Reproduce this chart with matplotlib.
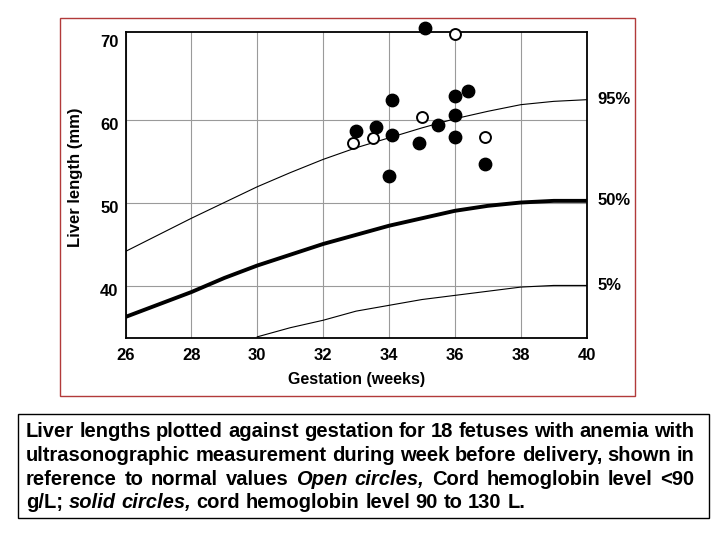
import numpy as np
import matplotlib
matplotlib.use("Agg")
import matplotlib.pyplot as plt
from matplotlib.patches import Rectangle
from matplotlib.transforms import ScaledTranslation

plt.rcParams['font.family'] = ['Liberation Sans', 'DejaVu Sans']

# --- data ---
weeks = [26, 27, 28, 29, 30, 31, 32, 33, 34, 35, 36, 37, 38, 39, 40]
p95 = [44.2, 46.2, 48.2, 50.1, 52.0, 53.7, 55.3, 56.7, 57.9, 59.1, 60.2, 61.1, 61.9, 62.3, 62.5]
p50 = [36.3, 37.8, 39.3, 41.0, 42.5, 43.8, 45.1, 46.2, 47.3, 48.2, 49.1, 49.7, 50.1, 50.3, 50.3]
weeks5 = [30, 31, 32, 33, 34, 35, 36, 37, 38, 39, 40]
p5 = [33.9, 35.0, 35.9, 37.0, 37.7, 38.4, 38.9, 39.4, 39.9, 40.1, 40.1]

# open circles: cord hemoglobin < 90 g/L
open_x = [36.0, 35.0, 33.5, 32.9, 36.9]
open_y = [70.4, 60.4, 57.9, 57.3, 58.0]
# solid circles: cord hemoglobin 90-130
solid_x = [35.1, 34.1, 36.0, 36.4, 36.0, 35.5, 34.1, 33.6, 33.0, 34.9, 36.0, 34.0, 36.9]
solid_y = [71.2, 62.5, 63.0, 63.5, 60.7, 59.5, 58.3, 59.2, 58.7, 57.3, 58.0, 53.3, 54.7]

pct_labels = ["95%", "50%", "5%"]
xticks = [26, 28, 30, 32, 34, 36, 38, 40]
yticks = [40, 50, 60, 70]

caption = [
    [("Liver lengths plotted against gestation for 18 fetuses with anemia with", "normal")],
    [("ultrasonographic measurement during week before delivery, shown in", "normal")],
    [("reference to normal values", "normal"), ("Open circles,", "italic"),
     ("Cord hemoglobin level <90", "normal")],
    [("g/L;", "normal"), ("solid circles,", "italic"),
     ("cord hemoglobin level 90 to 130 L.", "normal")],
]

W, H = 720, 540
fig = plt.figure(figsize=(7.2, 5.4), dpi=100)
ax = fig.add_axes([125.5 / W, 1 - 338 / H, (586.7 - 125.5) / W, (338 - 31.7) / H])

ax.plot(weeks, p95, color='black', lw=0.8)
ax.plot(weeks, p50, color='black', lw=2.8)
ax.plot(weeks5, p5, color='black', lw=0.8)

ax.scatter(solid_x, solid_y, s=80, color='black', zorder=3, clip_on=False)
ax.scatter(open_x, open_y, s=62, facecolor='white', edgecolor='black',
           linewidth=1.4, zorder=3, clip_on=False)

ax.set_xlim(26, 40)
ax.set_ylim(33.76, 70.7)
ax.set_xticks(xticks)
ax.set_yticks(yticks)
ax.tick_params(length=0, labelsize=12)
ax.tick_params(axis='x', pad=7)
ax.tick_params(axis='y', pad=5)
for lab in ax.get_xticklabels() + ax.get_yticklabels():
    lab.set_fontweight('bold')
for lab in ax.get_yticklabels():
    lab.set_transform(lab.get_transform() + ScaledTranslation(0, -3.5 / 100, fig.dpi_scale_trans))

ax.grid(True, color='#9a9a9a', lw=0.8)
ax.yaxis.get_gridlines()[-1].set_visible(False)
ax.set_axisbelow(True)
for sp in ax.spines.values():
    sp.set_linewidth(1.3)

ax.set_xlabel("Gestation (weeks)", fontsize=11.5, fontweight='bold')
ax.xaxis.set_label_coords(0.5, -0.112)
ax.set_ylabel("Liver length (mm)", fontsize=12, fontweight='bold')
ax.yaxis.set_label_coords(-0.0915, 0.5256)

for lab, yv in zip(pct_labels, [p95[-1], p50[-1], p5[-1]]):
    ax.annotate(lab, xy=(40, yv), xytext=(8, 0), textcoords='offset points',
                ha='left', va='center', fontsize=12, fontweight='bold',
                annotation_clip=False)

# frames round the chart and the caption
fig.patches.append(Rectangle((60.3 / W, 1 - 396 / H), (635.3 - 60.3) / W, (396 - 18.3) / H,
                             transform=fig.transFigure, fill=False, edgecolor='#b23a3a', lw=1.0))
fig.patches.append(Rectangle((18.3 / W, 1 - 518.3 / H), (708.7 - 18.3) / W, (518.3 - 414.3) / H,
                             transform=fig.transFigure, fill=False, edgecolor='black', lw=1.0))

# justified caption, placed word by word
renderer = fig.canvas.get_renderer()
x0, x1 = 26, 694.3
baselines = [437.3, 461.0, 485.0, 508.3]
cap_size = 14.5
sp_a = fig.text(0, 0, "a a", fontsize=cap_size, fontweight='bold')
sp_b = fig.text(0, 0, "aa", fontsize=cap_size, fontweight='bold')
space_w = sp_a.get_window_extent(renderer).width - sp_b.get_window_extent(renderer).width
sp_a.remove()
sp_b.remove()
for i, line in enumerate(caption):
    words = [(w, st) for seg, st in line for w in seg.split()]
    ts = [fig.text(0, 0, w, fontsize=cap_size, fontweight='bold', style=st, va='baseline')
          for w, st in words]
    widths = [t.get_window_extent(renderer).width for t in ts]
    if i < len(caption) - 1:
        gap = (x1 - x0 - sum(widths)) / (len(ts) - 1)
    else:
        gap = space_w
    x = x0
    for t, wd in zip(ts, widths):
        t.set_position((x / W, 1 - baselines[i] / H))
        x += wd + gap

fig.savefig("out.png", dpi=100)
